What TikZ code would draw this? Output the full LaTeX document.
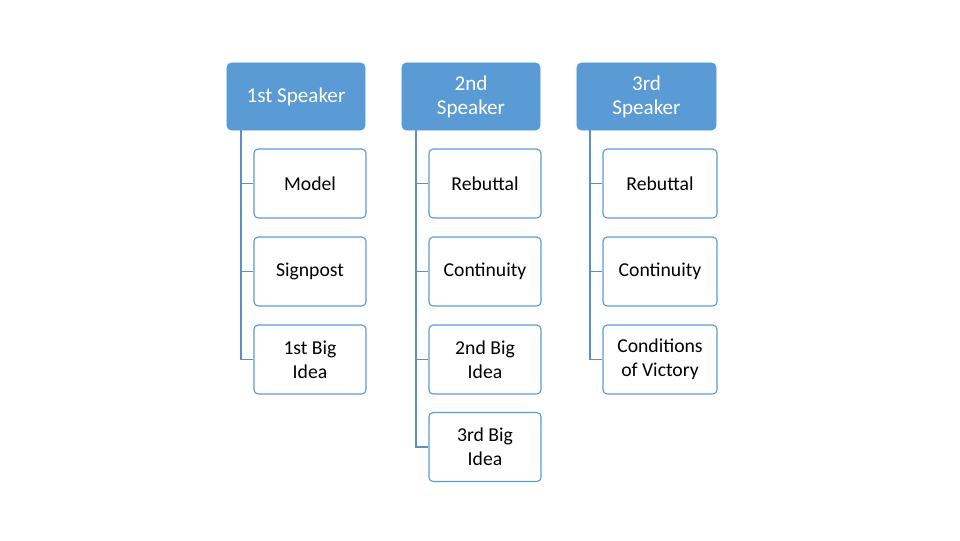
\documentclass[tikz,border=0pt]{standalone}
\usepackage{fontspec}
\setmainfont{Carlito}
\definecolor{hdblue}{HTML}{5B9BD5}
\definecolor{lnblue}{HTML}{5B8FC8}
\begin{document}
\begin{tikzpicture}[x=0.025cm,y=-0.025cm,
    head/.style={draw=hdblue, fill=hdblue, text=white, rounded corners=3pt, minimum width=138\pgflinewidth, align=center, font=\fontsize{15}{17}\selectfont, inner sep=0pt},
    item/.style={draw=hdblue, fill=white, thick, rounded corners=3pt, align=center, font=\fontsize{14}{17}\selectfont, inner sep=0pt},
    conn/.style={draw=lnblue, line width=0.8pt}]
\useasboundingbox (0,0) rectangle (960,540);
% headers
\node[head, minimum width=3.45cm, minimum height=1.675cm] (s1) at (296,96.5) {1st Speaker};
\node[head, minimum width=3.45cm, minimum height=1.675cm] (s2) at (471,96.5) {2nd\\Speaker};
\node[head, minimum width=3.475cm, minimum height=1.675cm] (s3) at (646.5,96.5) {3rd\\Speaker};
% first speaker
\node[item, minimum width=2.8cm, minimum height=1.725cm] (a1) at (310,183.5) {Model};
\node[item, minimum width=2.8cm, minimum height=1.725cm] (a2) at (310,271.5) {Signpost};
\node[item, minimum width=2.8cm, minimum height=1.725cm] (a3) at (310,359.5) {1st Big\\Idea};
% second speaker
\node[item, minimum width=2.8cm, minimum height=1.725cm] (b1) at (485,183.5) {Rebuttal};
\node[item, minimum width=2.8cm, minimum height=1.725cm] (b2) at (485,271.5) {Continuity};
\node[item, minimum width=2.8cm, minimum height=1.725cm] (b3) at (485,359.5) {2nd Big\\Idea};
\node[item, minimum width=2.8cm, minimum height=1.725cm] (b4) at (485,447) {3rd Big\\Idea};
% third speaker
\node[item, minimum width=2.85cm, minimum height=1.725cm] (c1) at (660,183.5) {Rebuttal};
\node[item, minimum width=2.85cm, minimum height=1.725cm] (c2) at (660,271.5) {Continuity};
\node[item, minimum width=2.85cm, minimum height=1.725cm] (c3) at (660,359.5) {Conditions\\of Victory};
% connectors
\coordinate (ta) at (241,130); \coordinate (tb) at (416,130); \coordinate (tc) at (590,130);
\draw[conn] (ta) |- (a3.west);
\draw[conn] (ta |- a1.west) -- (a1.west);
\draw[conn] (ta |- a2.west) -- (a2.west);
\draw[conn] (tb) |- (b4.west);
\draw[conn] (tb |- b1.west) -- (b1.west);
\draw[conn] (tb |- b2.west) -- (b2.west);
\draw[conn] (tb |- b3.west) -- (b3.west);
\draw[conn] (tc) |- (c3.west);
\draw[conn] (tc |- c1.west) -- (c1.west);
\draw[conn] (tc |- c2.west) -- (c2.west);
\end{tikzpicture}
\end{document}
